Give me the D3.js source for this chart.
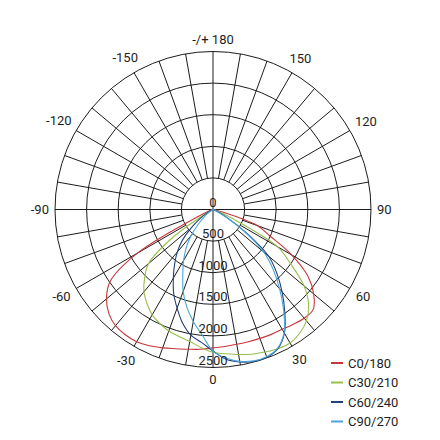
<!DOCTYPE html>
<html>
<head>
<meta charset="utf-8">
<script src="https://cdn.jsdelivr.net/npm/d3@7"></script>
<style>
  html, body { margin: 0; padding: 0; background: #fff; }
  svg { display: block; }
  .grid { stroke: #1c1c1c; stroke-width: 1; fill: none; }
  .lbl { font-family: Roboto, "DejaVu Sans", sans-serif; font-size: 13px; fill: #1e1e1e; }
</style>
</head>
<body>
<svg id="chart"></svg>
<script>
// gamma angles (deg) at which intensities are given, 0 = straight down
const gammas = [0, 5, 10, 15, 20, 25, 30, 35, 40, 45, 50, 55, 60, 65, 70, 75, 80, 85, 90];

// luminous intensity (cd) per C-plane
const c0   = [2190, 2175, 2165, 2165, 2170, 2180, 2190, 2215, 2245, 2240, 2080, 1830, 1440, 1000, 750, 150, 0, 0, 0];
const c180 = [2200, 2220, 2245, 2280, 2330, 2380, 2415, 2420, 2400, 2330, 2200, 1990, 1380, 250, 40, 0, 0, 0, 0];
const c30  = [2260, 2290, 2330, 2370, 2400, 2430, 2440, 2390, 2300, 2140, 1880, 1500, 1180, 350, 60, 0, 0, 0, 0];
const c210 = [2260, 2190, 2120, 2080, 2045, 1990, 1925, 1820, 1700, 1530, 1330, 800, 120, 0, 0, 0, 0, 0, 0];
const c60  = [2240, 2380, 2450, 2490, 2490, 2430, 2260, 1980, 1700, 1430, 1150, 650, 250, 60, 0, 0, 0, 0, 0];
const c240 = [2240, 2110, 2020, 1860, 1660, 1470, 1255, 1060, 880, 680, 450, 250, 100, 20, 0, 0, 0, 0, 0];
const c90  = [2240, 2360, 2440, 2480, 2480, 2420, 2250, 1950, 1640, 1350, 1050, 600, 200, 40, 0, 0, 0, 0, 0];
const c270 = [2240, 1990, 1800, 1600, 1380, 1130, 930, 740, 540, 330, 180, 60, 0, 0, 0, 0, 0, 0, 0];

const seriesNames = ["C0/180", "C30/210", "C60/240", "C90/270"];
const seriesColors = ["#c9363a", "#97bf4a", "#23407a", "#4aa6db"];
const seriesRight = [c0, c30, c60, c90];
const seriesLeft = [c180, c210, c240, c270];

const ringTicks = [500, 1000, 1500, 2000, 2500];
const angleTicks = [-150, -120, -90, -60, -30, 0, 30, 60, 90, 120, 150, 180];
const angleLabels = ["-150", "-120", "-90", "-60", "-30", "0", "30", "60", "90", "120", "150", "-/+ 180"];

const W = 440, H = 440;
const cx = 213, cy = 209.5, R = 158;

const svg = d3.select("#chart").attr("width", W).attr("height", H);
const g = svg.append("g").attr("transform", `translate(${cx},${cy})`);

const r = d3.scaleLinear().domain([0, 2500]).range([0, R]);
// gamma 0 at the bottom, positive to the right, 180 at the top
const a = d3.scaleLinear().domain([-180, 180]).range([2 * Math.PI, 0]);
const toRad = (d) => a(d) - Math.PI / 2;

// rings
g.selectAll(".ring").data(ringTicks).join("circle")
  .attr("class", "grid").attr("r", (d) => r(d));

// spokes every 10 deg from the first ring outwards
const spokes = d3.range(-170, 180, 10).filter((d) => d % 90 !== 0);
g.selectAll(".spoke").data(spokes).join("line")
  .attr("class", "grid")
  .attr("x1", (d) => r(500) * Math.cos(toRad(d)))
  .attr("y1", (d) => r(500) * Math.sin(toRad(d)))
  .attr("x2", (d) => R * Math.cos(toRad(d)))
  .attr("y2", (d) => R * Math.sin(toRad(d)));

// main axes through the centre
[0, 90].forEach((d) => {
  g.append("line").attr("class", "grid")
    .attr("x1", R * Math.cos(toRad(d))).attr("y1", R * Math.sin(toRad(d)))
    .attr("x2", -R * Math.cos(toRad(d))).attr("y2", -R * Math.sin(toRad(d)));
});

// curves: left half from the opposite plane, right half from the named plane
const line = d3.lineRadial()
  .angle((d) => a(d[0]))
  .radius((d) => r(d[1]))
  .curve(d3.curveCatmullRom.alpha(0.5));

seriesNames.forEach((name, i) => {
  const pts = [];
  for (let k = gammas.length - 1; k > 0; k--) pts.push([-gammas[k], seriesLeft[i][k]]);
  gammas.forEach((gm, k) => pts.push([gm, seriesRight[i][k]]));
  g.append("path")
    .attr("d", line(pts))
    .attr("fill", "none")
    .attr("stroke", seriesColors[i])
    .attr("stroke-width", 1.1)
    .attr("stroke-linejoin", "round");
});

// ring labels sit just above each ring on the downward axis
g.selectAll(".rlbl").data([0, ...ringTicks]).join("text")
  .attr("class", "lbl")
  .attr("text-anchor", "middle")
  .attr("x", 0)
  .attr("y", (d) => r(d) - 3)
  .text((d) => d);

// angle labels, pushed outside the circle by their box size
const angLbl = svg.append("g").attr("transform", `translate(${cx},${cy})`);
angLbl.selectAll("text").data(angleTicks).join("text")
  .attr("class", "lbl")
  .attr("text-anchor", "middle")
  .attr("dy", "0.35em")
  .text((d, i) => angleLabels[i])
  .each(function (d) {
    const t = d3.select(this);
    const w = this.getComputedTextLength();
    const th = toRad(d);
    const dist = R + 6 + (w / 2) * Math.abs(Math.cos(th)) + 6 * Math.abs(Math.sin(th));
    t.attr("x", dist * Math.cos(th)).attr("y", dist * Math.sin(th));
  });

// legend
const lg = svg.append("g").attr("transform", "translate(331,363)");
seriesNames.forEach((name, i) => {
  lg.append("line")
    .attr("x1", 0).attr("x2", 12)
    .attr("y1", i * 19.5).attr("y2", i * 19.5)
    .attr("stroke", seriesColors[i]).attr("stroke-width", 2);
  lg.append("text").attr("class", "lbl")
    .attr("x", 17).attr("y", i * 19.5).attr("dy", "0.35em")
    .text(name);
});
</script>
</body>
</html>
